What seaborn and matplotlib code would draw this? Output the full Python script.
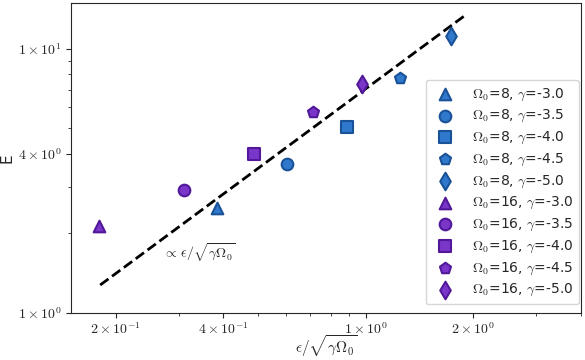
import numpy as np
import pandas as pd
import seaborn as sns
from matplotlib import pyplot as plt
from matplotlib import ticker

# data
gammas = [-3.0, -3.5, -4.0, -4.5, -5.0]
markers = ["^", "o", "s", "p", "d"]

eps8 = [0.384, 0.601, 0.885, 1.25, 1.73]
E8 = [2.50, 3.67, 5.06, 7.77, 11.2]

eps16 = [0.180, 0.310, 0.487, 0.711, 0.975]
E16 = [2.14, 2.92, 4.00, 5.77, 7.37]

fit_x = np.array([0.181, 1.89])
fit_coef = 7.05

xticks = [0.2, 0.4, 1.0, 2.0]
xtick_labels = [r"$2\times10^{-1}$", r"$4\times10^{-1}$", r"$1\times10^{0}$", r"$2\times10^{0}$"]
yticks = [1.0, 4.0, 10.0]
ytick_labels = [r"$1\times10^{0}$", r"$4\times10^{0}$", r"$1\times10^{1}$"]

sns.set_style("ticks")
plt.rcParams["mathtext.fontset"] = "cm"
plt.rcParams["font.family"] = ["DejaVu Sans"]

fig, ax = plt.subplots(figsize=(5.85, 3.6), dpi=100)
fig.subplots_adjust(left=0.1214, right=0.993, bottom=0.1306, top=0.9917)

groups = [
    (8, eps8, E8, "#2f78cc", "#1a5298"),
    (16, eps16, E16, "#7a35c9", "#52189a"),
]
for omega, xs, ys, fc, ec in groups:
    for g, m, x, y in zip(gammas, markers, xs, ys):
        sns.scatterplot(ax=ax, x=[x], y=[y], marker=m, s=70 if m != "d" else 80,
                        color=fc, edgecolor=ec, linewidth=1.5, zorder=3,
                        label=r"$\Omega_0$=%d, $\gamma$=%.1f" % (omega, g))

sns.lineplot(ax=ax, x=fit_x, y=fit_coef * fit_x, color="black", linestyle="--",
             linewidth=2, zorder=2)

ax.text(0.271, 1.69, r"$\propto\,\epsilon/\sqrt{\gamma\Omega_0}$", fontsize=10,
        va="center", ha="left")

ax.set_xscale("log")
ax.set_yscale("log")
ax.set_xlim(0.15, 4.0)
ax.set_ylim(1.0, 14.9)

ax.xaxis.set_major_locator(ticker.FixedLocator(xticks))
ax.xaxis.set_major_formatter(ticker.FixedFormatter(xtick_labels))
ax.xaxis.set_minor_locator(ticker.LogLocator(subs=np.arange(2, 10)))
ax.xaxis.set_minor_formatter(ticker.NullFormatter())
ax.yaxis.set_major_locator(ticker.FixedLocator(yticks))
ax.yaxis.set_major_formatter(ticker.FixedFormatter(ytick_labels))
ax.yaxis.set_minor_locator(ticker.LogLocator(subs=np.arange(2, 10)))
ax.yaxis.set_minor_formatter(ticker.NullFormatter())
ax.tick_params(which="major", labelsize=10, length=3.5)
ax.tick_params(axis="x", which="major", pad=2.5)
ax.tick_params(which="minor", length=2)

ax.set_xlabel(r"$\epsilon/\sqrt{\gamma\Omega_0}$", fontsize=11, labelpad=-2.5)
ax.set_ylabel("E", fontsize=11, labelpad=2)

ax.legend(loc="lower right", bbox_to_anchor=(0.996, 0.028), borderaxespad=0,
          fontsize=10, scatterpoints=1, handletextpad=0.9,
          borderpad=0.42, labelspacing=0.4)

fig.savefig("out.png", dpi=100)
